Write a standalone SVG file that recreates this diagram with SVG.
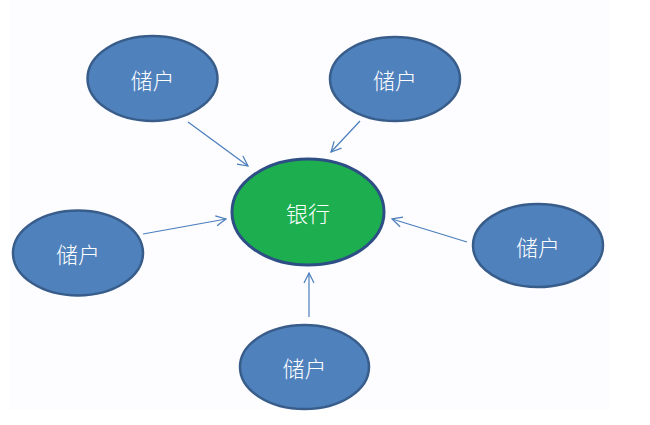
<svg xmlns="http://www.w3.org/2000/svg" width="650" height="425" viewBox="0 0 650 425">
<style>
.depositor ellipse{fill:#4f81bd;stroke:#385d8a;stroke-width:2.5}
.bank ellipse{fill:#1daf4f;stroke:#2e4f86;stroke-width:3}
text{font-family:"Noto Sans CJK SC","Noto Sans CJK JP",sans-serif;font-size:22px;font-weight:300;fill:#ffffff;text-anchor:middle;dominant-baseline:central}
.conn line{stroke:#4a7ebb;stroke-width:1.2;fill:none}
</style>
<defs>
<marker id="arr" viewBox="0 0 12 12" refX="11" refY="6" markerWidth="12" markerHeight="12" markerUnits="userSpaceOnUse" orient="auto">
<path d="M1,1 L11,6 L1,11" fill="none" stroke="#4a7ebb" stroke-width="1.2"/>
</marker>
</defs>
<rect x="0" y="0" width="650" height="425" fill="#ffffff"/>
<rect x="10" y="0" width="600" height="410" fill="#fdfcff"/>
<g class="conn">
<line x1="188" y1="122" x2="248" y2="166" marker-end="url(#arr)"/>
<line x1="360" y1="121" x2="331" y2="152" marker-end="url(#arr)"/>
<line x1="143" y1="234" x2="226" y2="219" marker-end="url(#arr)"/>
<line x1="467" y1="242" x2="392" y2="219" marker-end="url(#arr)"/>
<line x1="309" y1="317" x2="309" y2="273" marker-end="url(#arr)"/>
</g>
<g id="bank" class="bank"><ellipse cx="308" cy="212" rx="76" ry="53"/><text x="308" y="212">银行</text></g>
<g id="depositor-tl" class="depositor"><ellipse cx="152.5" cy="78.5" rx="65" ry="42.5"/><text x="152.5" y="78.5">储户</text></g>
<g id="depositor-tr" class="depositor"><ellipse cx="395" cy="79" rx="65" ry="42"/><text x="395" y="79">储户</text></g>
<g id="depositor-l" class="depositor"><ellipse cx="78" cy="253" rx="65" ry="42.5"/><text x="78" y="253">储户</text></g>
<g id="depositor-r" class="depositor"><ellipse cx="538" cy="245.5" rx="65" ry="41.5"/><text x="538" y="245.5">储户</text></g>
<g id="depositor-b" class="depositor"><ellipse cx="304.5" cy="367" rx="64.5" ry="42"/><text x="304.5" y="367">储户</text></g>
</svg>
